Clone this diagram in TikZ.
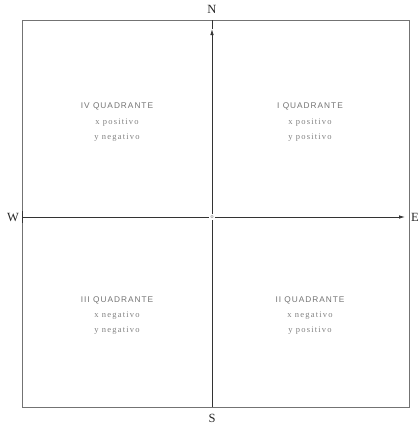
\documentclass[tikz,border=0pt]{standalone}
\usepackage{fontspec}
\usetikzlibrary{arrows.meta}
\setmainfont{Liberation Serif}
\setsansfont{Liberation Sans}
\newfontfamily\qtitlefont[LetterSpace=12]{Liberation Sans}
\newfontfamily\qlinefont[LetterSpace=14]{Liberation Serif}
\begin{document}
\begin{tikzpicture}[x=1pt,y=-1pt,
  frame/.style={draw=black!55,line width=0.6pt},
  axis/.style={draw=black!80,line width=0.8pt},
  compass/.style={font=\fontsize{12.5}{12.5}\selectfont,text=black!85,inner sep=0pt},
  qtitle/.style={font=\qtitlefont\fontsize{8.3}{8.3}\selectfont,text=black!55,inner sep=0pt},
  qline/.style={font=\qlinefont\fontsize{8.5}{8.5}\selectfont,text=black!50,inner sep=0pt}]
\useasboundingbox (0,0) rectangle (420,426);
% frame
\draw[frame] (22,20) rectangle (409,407);
% compass labels
\node[compass] (N) at (212,9) {N};
\node[compass] (S) at (212,418) {S};
\node[compass] (W) at (13,217) {W};
\node[compass] (E) at (415,217) {E};
% axes
\coordinate (top) at (212,20);
\coordinate (bot) at (212,407);
\coordinate (left) at (22,217);
\coordinate (right) at (405,217);
\node[fill=white,inner sep=1.2pt,font=\fontsize{6}{6}\selectfont,text=black!60] (o) at (212,217) {o};
\draw[axis] (bot) -- (o.south);
\draw[axis,-{Latex[length=6pt,width=3.5pt]}] (o.north) -- (212,29);
\draw[axis] (212,29) -- (top);
\draw[axis] (left) -- (o.west);
\draw[axis,-{Latex[length=6pt,width=3.5pt]}] (o.east) -- (right);
\draw[axis] (22,211) -- (22,223);
% quadrant texts
\node[qtitle] (q4) at (117,106) {IV QUADRANTE};
\node[qline] (q4a) at (117,123) {x positivo};
\node[qline] (q4b) at (117,138) {y negativo};
\node[qtitle] (q1) at (310,106) {I QUADRANTE};
\node[qline] (q1a) at (310,123) {x positivo};
\node[qline] (q1b) at (310,138) {y positivo};
\node[qtitle] (q3) at (117,300) {III QUADRANTE};
\node[qline] (q3a) at (117,316) {x negativo};
\node[qline] (q3b) at (117,331) {y negativo};
\node[qtitle] (q2) at (310,300) {II QUADRANTE};
\node[qline] (q2a) at (310,316) {x negativo};
\node[qline] (q2b) at (310,331) {y positivo};
\end{tikzpicture}
\end{document}
